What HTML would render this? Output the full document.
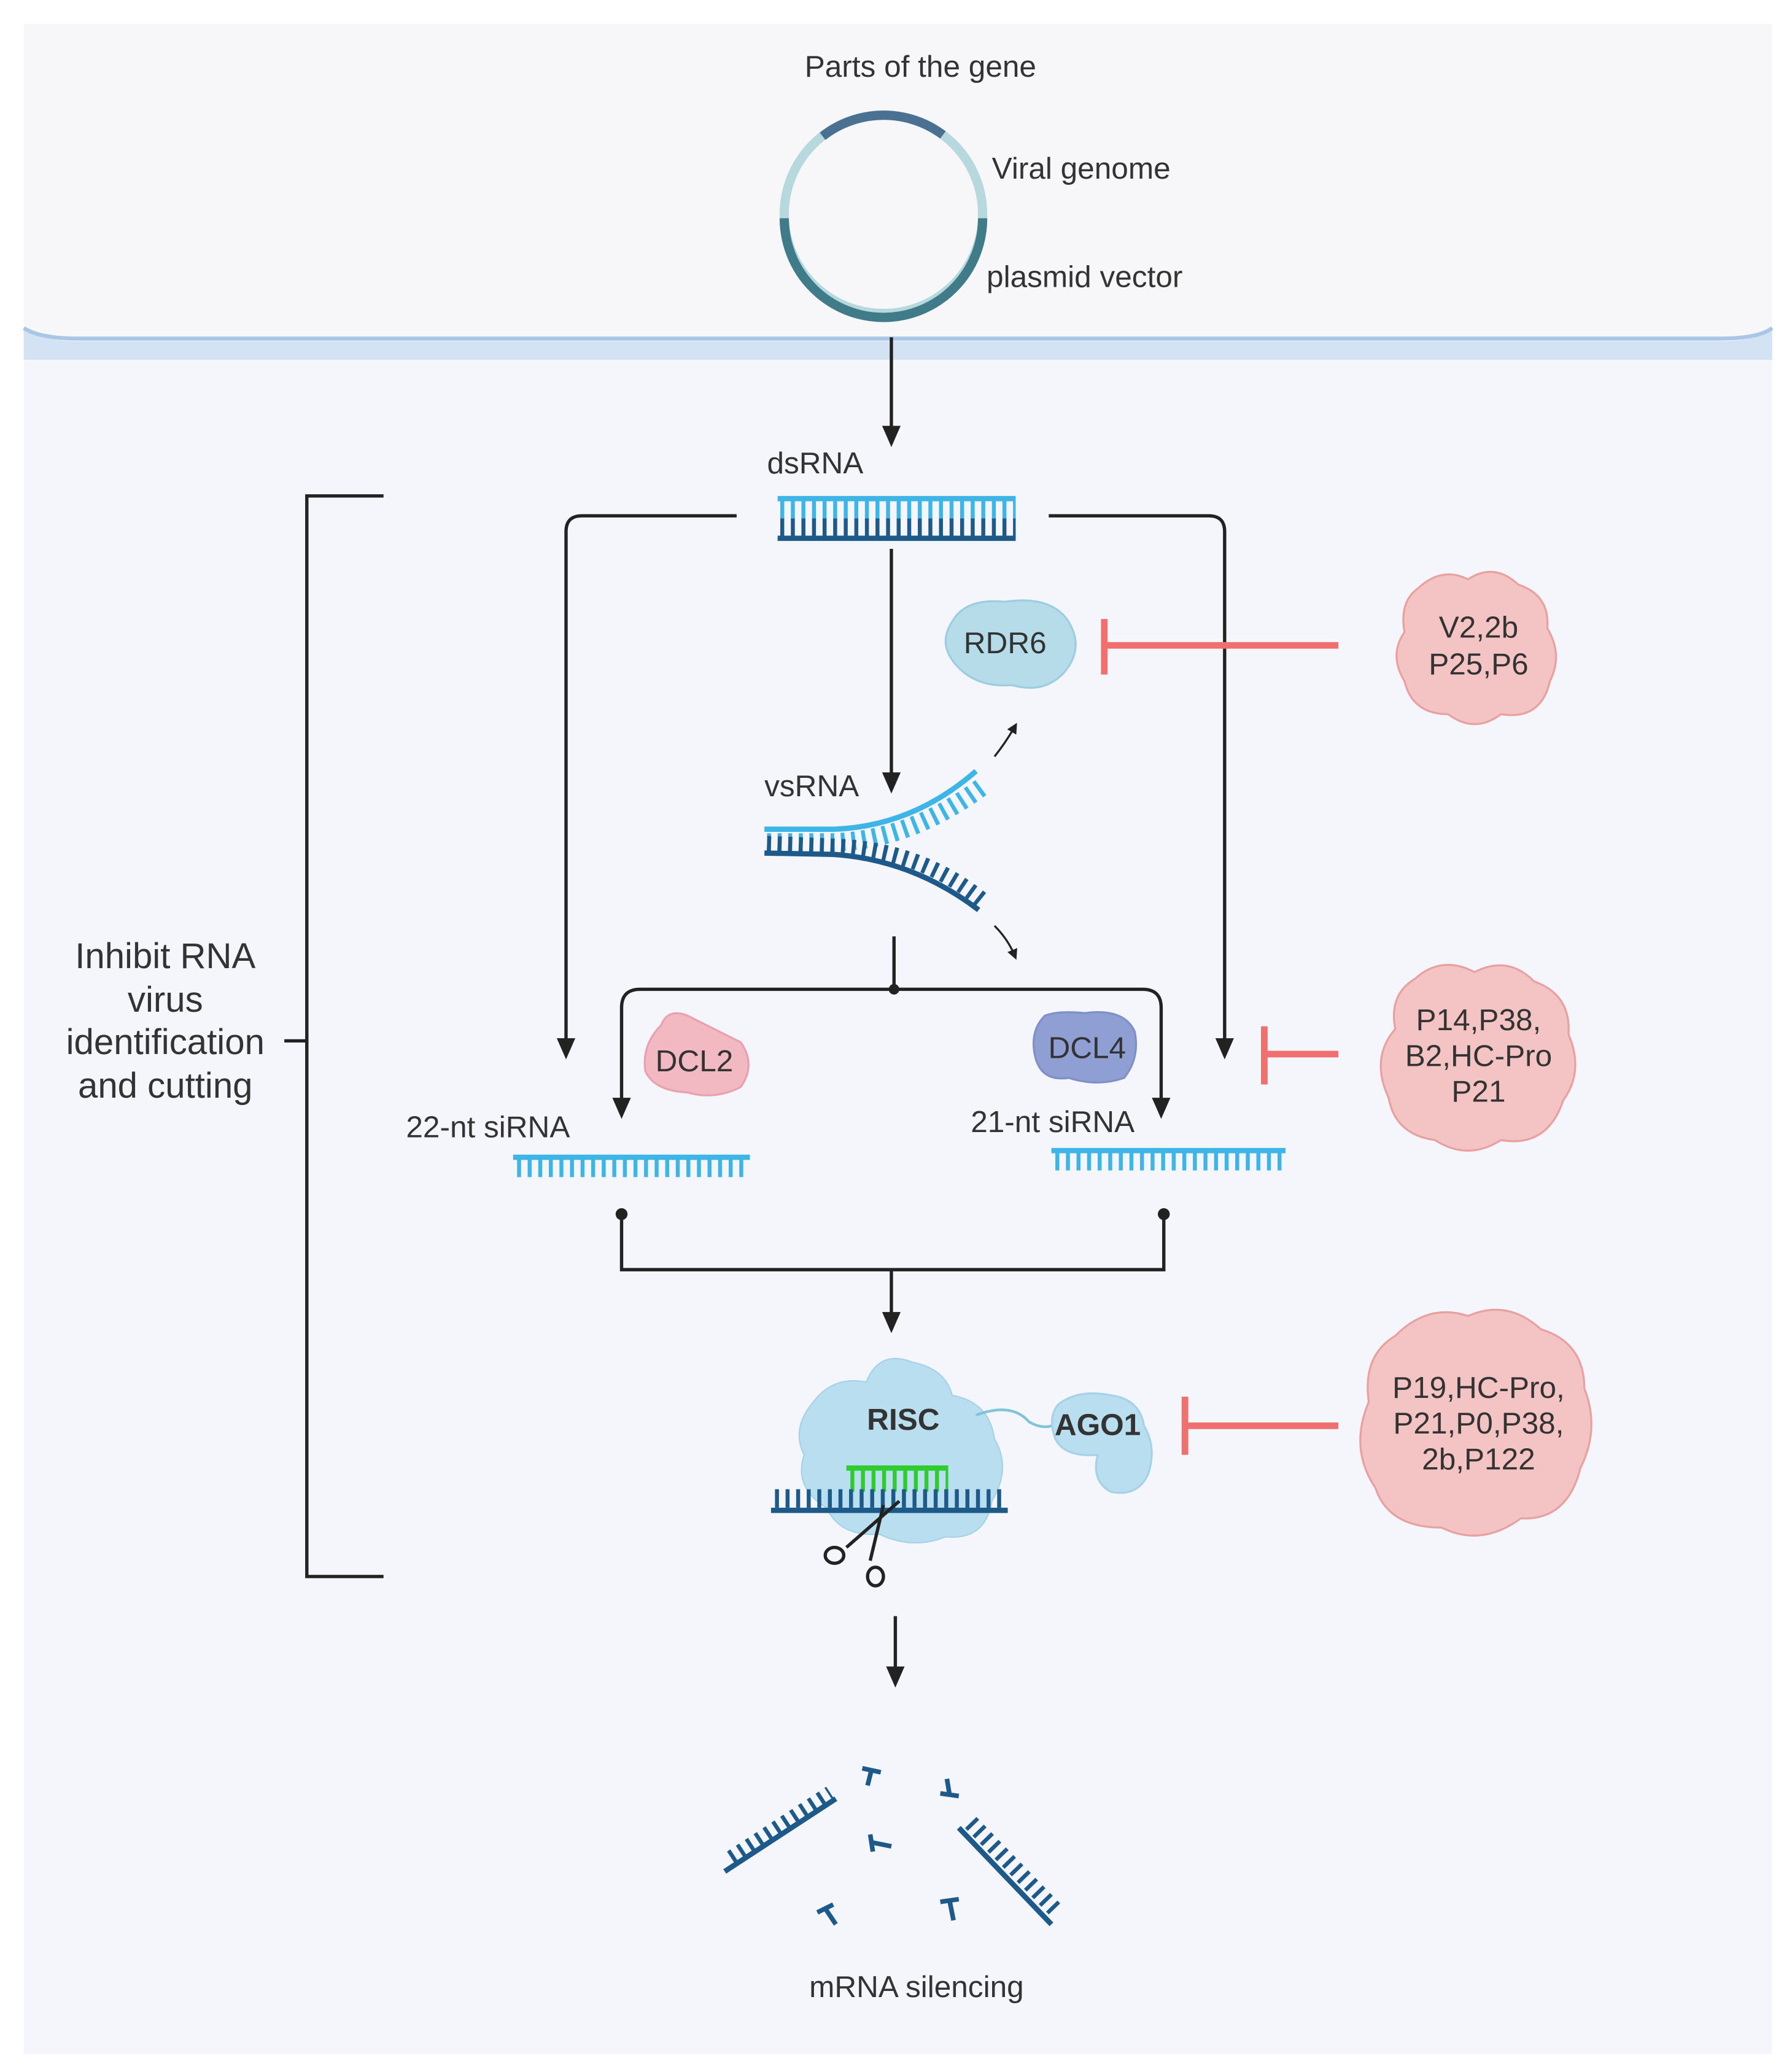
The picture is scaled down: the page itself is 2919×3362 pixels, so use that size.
<!DOCTYPE html>
<html><head><meta charset="utf-8"><style>
html,body{margin:0;padding:0;background:#fff;}
svg{display:block;}
text{font-family:"Liberation Sans",sans-serif;fill:#333;}
</style></head><body>
<svg width="2919" height="3362" viewBox="0 0 1355 1560.6" preserveAspectRatio="none" xmlns="http://www.w3.org/2000/svg">
<defs>
<marker id="ah" markerWidth="16" markerHeight="16" refX="8" refY="8" orient="auto" markerUnits="userSpaceOnUse" viewBox="0 0 16 16">
<path d="M0,1 L16,8 L0,15 Z" fill="#222"/></marker>
<marker id="ahs" markerWidth="8" markerHeight="8" refX="4" refY="4" orient="auto" markerUnits="userSpaceOnUse" viewBox="0 0 8 8">
<path d="M0,0 L8,4 L0,8 Z" fill="#222"/></marker>
</defs>
<rect x="0" y="0" width="1355" height="1561" fill="#fff"/>
<rect x="18" y="18" width="1322" height="1535" fill="#f7f7fa"/>
<rect x="18" y="270" width="1322" height="1283" fill="#f5f6fb"/>
<path d="M18,248 Q30,258 60,258 L1300,258 Q1330,258 1340,248 L1340,272 L18,272 Z" fill="#d3e3f3"/>
<path d="M18,248 Q30,256 60,256 L1300,256 Q1330,256 1340,248" fill="none" stroke="#a9c6e6" stroke-width="3"/>

<g font-size="23">
<text x="696" y="58" text-anchor="middle" fill="#444">Parts of the gene</text>
<text x="750" y="135" fill="#444">Viral genome</text>
<text x="746" y="217" fill="#444">plasmid vector</text>
</g>
<circle cx="668" cy="162" r="75" fill="none" stroke="#b7d8dd" stroke-width="7"/>
<path d="M 622,103 A75,75 0 0 1 713,102" fill="none" stroke="#4b7192" stroke-width="7"/>
<path d="M 743,165 A75,75 0 0 1 593,165" fill="none" stroke="#3f7b88" stroke-width="7"/>

<line x1="674" y1="255" x2="674" y2="330" stroke="#222" stroke-width="2.5" marker-end="url(#ah)"/>
<text x="580" y="358" font-size="23">dsRNA</text>
<line x1="590" y1="385" x2="768" y2="385" stroke="#3db5e6" stroke-width="16" stroke-dasharray="3 5"/>
<line x1="590" y1="399" x2="768" y2="399" stroke="#1d5a8a" stroke-width="14" stroke-dasharray="3 5"/>
<line x1="588" y1="377" x2="768" y2="377" stroke="#3db5e6" stroke-width="4"/>
<line x1="588" y1="407" x2="768" y2="407" stroke="#1d5a8a" stroke-width="4"/>

<path d="M290,375 L232,375 L232,1192 L290,1192 M215,787 L232,787" fill="none" stroke="#222" stroke-width="2.5"/>
<g font-size="27" text-anchor="middle" fill="#333">
<text x="125" y="732">Inhibit RNA</text><text x="125" y="765">virus</text>
<text x="125" y="797">identification</text><text x="125" y="830">and cutting</text></g>

<path d="M557,390 L440,390 Q428,390 428,402 L428,793" fill="none" stroke="#222" stroke-width="2.5" marker-end="url(#ah)"/>
<path d="M793,390 L914,390 Q926,390 926,402 L926,793" fill="none" stroke="#222" stroke-width="2.5" marker-end="url(#ah)"/>
<line x1="674" y1="415" x2="674" y2="592" stroke="#222" stroke-width="2.5" marker-end="url(#ah)"/>

<path d="M720,470 Q730,452 760,455 Q795,450 808,470 Q820,490 805,508 Q790,525 765,518 Q740,520 725,505 Q708,488 720,470 Z" fill="#b6dcea" stroke="#9ccde0" stroke-width="1.5"/>
<text x="760" y="494" font-size="23" text-anchor="middle">RDR6</text>
<line x1="1012" y1="488" x2="835" y2="488" stroke="#f07070" stroke-width="5"/>
<line x1="835" y1="468" x2="835" y2="510" stroke="#f07070" stroke-width="5"/>
<path d="M1072,445 Q1090,428 1110,438 Q1130,425 1148,442 Q1172,450 1170,475 Q1182,495 1172,515 Q1165,545 1135,540 Q1115,555 1095,540 Q1068,540 1062,515 Q1050,495 1062,478 Q1058,455 1072,445 Z" fill="#f4c4c4" stroke="#e8a0a0" stroke-width="1.5"/>
<g font-size="23" text-anchor="middle"><text x="1118" y="482">V2,2b</text><text x="1118" y="510">P25,P6</text></g>

<text x="578" y="602" font-size="23">vsRNA</text>
<path d="M580,632 L630,632 Q690,630 745,588" fill="none" stroke="#3db5e6" stroke-width="14" stroke-dasharray="3 5" transform="translate(0,5)"/>
<path d="M578,627 L630,627 Q690,625 738,583" fill="none" stroke="#3db5e6" stroke-width="4"/>
<path d="M580,638 L630,640 Q695,642 742,680" fill="none" stroke="#1d5a8a" stroke-width="12" stroke-dasharray="3 5"/>
<path d="M578,645 L630,646 Q690,650 740,688" fill="none" stroke="#1d5a8a" stroke-width="4"/>
<path d="M752,572 Q760,562 767,550" fill="none" stroke="#222" stroke-width="1.5" marker-end="url(#ahs)"/>
<path d="M752,700 Q762,710 767,722" fill="none" stroke="#222" stroke-width="1.5" marker-end="url(#ahs)"/>

<line x1="676" y1="708" x2="676" y2="748" stroke="#222" stroke-width="2.5"/>
<circle cx="676" cy="748" r="4" fill="#222"/>
<path d="M676,748 L484,748 Q470,748 470,762 L470,838" fill="none" stroke="#222" stroke-width="2.5" marker-end="url(#ah)"/>
<path d="M676,748 L864,748 Q878,748 878,762 L878,838" fill="none" stroke="#222" stroke-width="2.5" marker-end="url(#ah)"/>

<path d="M500,775 Q505,762 520,768 Q540,778 560,788 Q572,805 560,822 Q540,832 520,826 Q495,825 488,810 Q485,790 500,775 Z" fill="#f2b9c2" stroke="#e8a2ae" stroke-width="1.5"/>
<text x="525" y="810" font-size="23" text-anchor="middle">DCL2</text>
<path d="M790,768 Q800,764 820,766 Q850,762 858,780 Q862,800 850,815 Q830,822 808,815 Q788,818 783,800 Q778,780 790,768 Z" fill="#8f9fd4" stroke="#7f90c8" stroke-width="1.5"/>
<text x="822" y="800" font-size="23" text-anchor="middle">DCL4</text>

<text x="307" y="860" font-size="23">22-nt siRNA</text>
<line x1="388" y1="875" x2="567" y2="875" stroke="#3db5e6" stroke-width="4"/>
<line x1="391" y1="883" x2="567" y2="883" stroke="#3db5e6" stroke-width="14" stroke-dasharray="3 5"/>
<text x="734" y="856" font-size="23">21-nt siRNA</text>
<line x1="795" y1="870" x2="972" y2="870" stroke="#3db5e6" stroke-width="4"/>
<line x1="798" y1="878" x2="972" y2="878" stroke="#3db5e6" stroke-width="14" stroke-dasharray="3 5"/>

<line x1="1012" y1="797" x2="956" y2="797" stroke="#f07070" stroke-width="5"/>
<line x1="956" y1="776" x2="956" y2="820" stroke="#f07070" stroke-width="5"/>
<path d="M1070,740 Q1090,722 1115,735 Q1140,722 1160,742 Q1188,752 1186,782 Q1198,810 1182,832 Q1170,868 1135,862 Q1110,878 1085,862 Q1055,858 1050,830 Q1036,800 1055,778 Q1050,752 1070,740 Z" fill="#f4c4c4" stroke="#e8a0a0" stroke-width="1.5"/>
<g font-size="23" text-anchor="middle"><text x="1118" y="779">P14,P38,</text><text x="1118" y="806">B2,HC-Pro</text><text x="1118" y="833">P21</text></g>

<circle cx="470" cy="918" r="4.5" fill="#222"/><circle cx="880" cy="918" r="4.5" fill="#222"/>
<path d="M470,918 L470,960 L880,960 L880,918" fill="none" stroke="#222" stroke-width="2.5"/>
<line x1="674" y1="960" x2="674" y2="1000" stroke="#222" stroke-width="2.5" marker-end="url(#ah)"/>

<path d="M615,1060 Q630,1040 655,1045 Q665,1020 690,1030 Q715,1035 720,1055 Q748,1060 752,1088 Q765,1110 750,1135 Q745,1165 715,1162 Q690,1172 665,1160 Q635,1162 625,1140 Q600,1125 608,1100 Q598,1080 615,1060 Z" fill="#b9def0" stroke="#a5d2e8" stroke-width="1"/>
<text x="683" y="1081" font-size="23" font-weight="bold" text-anchor="middle">RISC</text>
<line x1="640" y1="1110" x2="717" y2="1110" stroke="#2ecc2e" stroke-width="4"/>
<line x1="643" y1="1120" x2="717" y2="1120" stroke="#2ecc2e" stroke-width="16" stroke-dasharray="3 5"/>
<line x1="583" y1="1142" x2="762" y2="1142" stroke="#1d5a8a" stroke-width="4"/>
<line x1="586" y1="1133" x2="762" y2="1133" stroke="#1d5a8a" stroke-width="14" stroke-dasharray="3 5"/>
<g stroke="#222" stroke-width="2.5" fill="none">
<line x1="640" y1="1170" x2="680" y2="1135"/><line x1="658" y1="1180" x2="668" y2="1138"/>
<ellipse cx="631" cy="1176" rx="7" ry="6"/><ellipse cx="662" cy="1192" rx="6" ry="7"/></g>
<path d="M738,1070 Q765,1060 778,1075 Q790,1082 800,1076" fill="none" stroke="#7fc4d8" stroke-width="2"/>
<path d="M800,1062 Q815,1050 840,1055 Q862,1058 865,1078 Q875,1095 868,1115 Q860,1132 840,1128 Q825,1120 830,1100 Q805,1102 798,1088 Q792,1072 800,1062 Z" fill="#b9def0" stroke="#a5d2e8" stroke-width="1.5"/>
<text x="830" y="1085" font-size="23" font-weight="bold" text-anchor="middle">AGO1</text>

<line x1="1012" y1="1078" x2="896" y2="1078" stroke="#f07070" stroke-width="5"/>
<line x1="896" y1="1056" x2="896" y2="1100" stroke="#f07070" stroke-width="5"/>
<path d="M1055,1010 Q1080,985 1110,995 Q1140,982 1165,1005 Q1198,1015 1198,1050 Q1210,1080 1195,1110 Q1185,1150 1150,1148 Q1120,1170 1090,1155 Q1050,1155 1040,1125 Q1020,1095 1035,1060 Q1030,1025 1055,1010 Z" fill="#f4c4c4" stroke="#e8a0a0" stroke-width="1.5"/>
<g font-size="23" text-anchor="middle"><text x="1118" y="1057">P19,HC-Pro,</text><text x="1118" y="1084">P21,P0,P38,</text><text x="1118" y="1111">2b,P122</text></g>

<line x1="677" y1="1222" x2="677" y2="1268" stroke="#222" stroke-width="2.5" marker-end="url(#ah)"/>

<line x1="548" y1="1415" x2="632" y2="1360" stroke="#1d5a8a" stroke-width="4"/>
<line x1="553" y1="1405" x2="628" y2="1356" stroke="#1d5a8a" stroke-width="12" stroke-dasharray="3 5"/>
<line x1="725" y1="1382" x2="795" y2="1455" stroke="#1d5a8a" stroke-width="4"/>
<line x1="734" y1="1378" x2="798" y2="1444" stroke="#1d5a8a" stroke-width="12" stroke-dasharray="3 5"/>
<g stroke="#1d5a8a" stroke-width="3.5" fill="none">
<path d="M652,1337 L666,1340 M659,1338 L656,1350"/>
<path d="M711,1356 L725,1358 M718,1357 L716,1345"/>
<path d="M658,1387 L660,1400 M659,1393 L674,1396"/>
<path d="M618,1446 L630,1440 M624,1443 L632,1455"/>
<path d="M711,1438 L725,1436 M718,1437 L721,1452"/>
</g>
<text x="693" y="1510" font-size="23" text-anchor="middle">mRNA silencing</text>
</svg>
</body></html>
